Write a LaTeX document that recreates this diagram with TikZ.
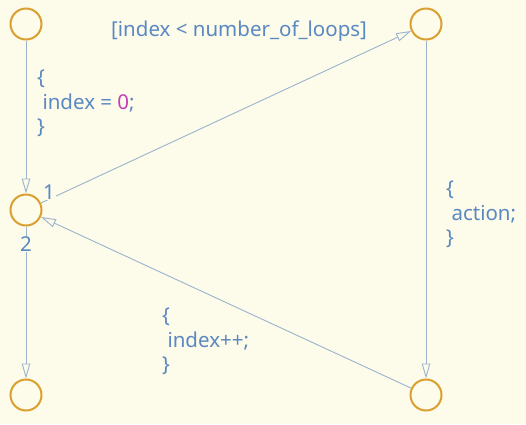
\documentclass[tikz,border=0pt]{standalone}
\usepackage{fontspec}
\setmainfont{Noto Sans}
\usetikzlibrary{arrows.meta}
\definecolor{bg}{HTML}{FDFBEA}
\definecolor{stateorange}{HTML}{D9A030}
\definecolor{edgeblue}{HTML}{9AB4CE}
\definecolor{textblue}{HTML}{5A88C2}
\definecolor{numpink}{HTML}{C23FB5}
\tikzset{
  state/.style={circle, draw=stateorange, line width=2pt, minimum size=31pt, inner sep=0pt},
  trans/.style={draw=edgeblue, line width=0.9pt, -{Triangle[open, length=15pt, width=8.5pt, fill=bg]}},
  lbl/.style={text=textblue, font=\fontsize{20.5}{24.5}\selectfont, align=left, inner sep=0pt},
  num/.style={lbl, fill=bg, inner sep=1pt},
}
\begin{document}
\begin{tikzpicture}[x=1pt,y=-1pt]
\fill[bg] (0,0) rectangle (526,424);
\useasboundingbox (0,0) rectangle (526,424);
\node[state] (s1) at (26,24) {};
\node[state] (s2) at (26,210) {};
\node[state] (s3) at (26,395) {};
\node[state] (s4) at (426,24) {};
\node[state] (s5) at (426,395) {};
\draw[trans] (s1) -- (s2);
\draw[trans] (s2) -- (s4);
\draw[trans] (s4) -- (s5);
\draw[trans] (s5) -- (s2);
\draw[trans] (s2) -- (s3);
\node[lbl, anchor=west] (g) at (111,31) {[index < number\_of\_loops]};
\node[lbl, anchor=north west] (a1) at (37,70) {\{\\\ index = \textcolor{numpink}{0};\\\}};
\node[lbl, anchor=north west] (a2) at (446,181) {\{\\\ action;\\\}};
\node[lbl, anchor=north west] (a3) at (162,308) {\{\\\ index++;\\\}};
\node[num] (n1) at (49,192) {1};
\node[num] (n2) at (26,244) {2};
\end{tikzpicture}
\end{document}
